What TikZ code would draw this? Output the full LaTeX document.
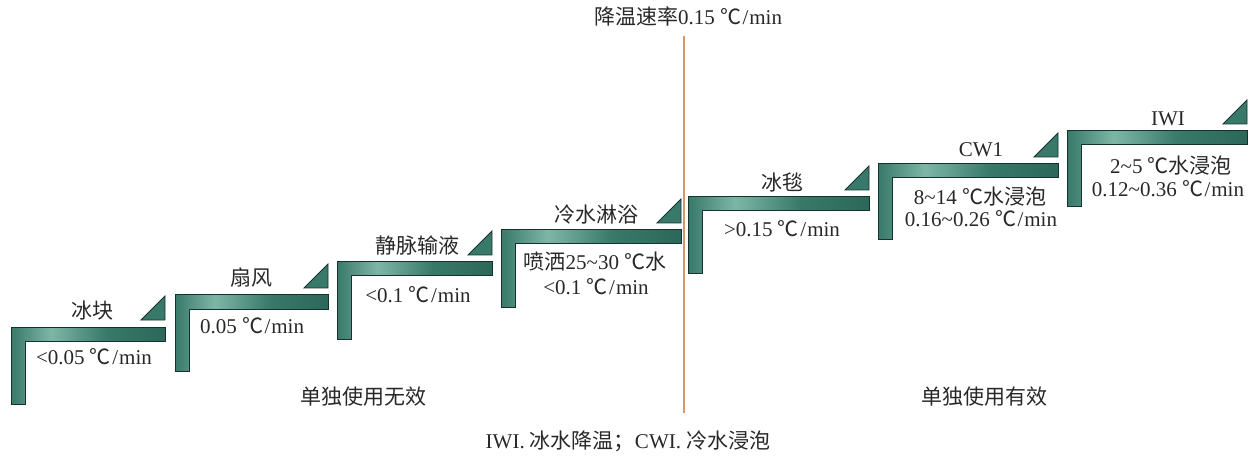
\documentclass[tikz,border=0pt]{standalone}
\usepackage{fontspec}
\setmainfont{Liberation Serif}
\newfontfamily\cjk{Noto Sans CJK SC}
\newcommand\dc{{\cjk ℃}\hspace{1.5pt}/\hspace{1pt}}
\newcommand\tl{\textasciitilde}
\definecolor{tdark}{RGB}{44,104,90}
\definecolor{tmid}{RGB}{56,121,106}
\definecolor{tlight}{RGB}{126,182,166}
\definecolor{edgec}{RGB}{22,50,44}
\definecolor{orng}{RGB}{214,150,105}
\definecolor{txt}{RGB}{40,40,40}
\pgfdeclarehorizontalshading{barshade}{100bp}{color(0bp)=(tmid); color(25bp)=(tmid); color(38bp)=(tlight); color(56bp)=(tmid); color(75bp)=(tdark); color(100bp)=(tdark)}
\tikzset{
  lbl/.style={font=\fontsize{21}{25}\selectfont, text=txt, inner sep=0pt, anchor=center},
  barstyle/.style={shading=barshade, draw=edgec, line width=1pt, line join=miter},
  tristyle/.style={fill=tmid, draw=edgec, line width=0.8pt},
}
\newcommand\stair[4]{%
  \shade[barstyle] (#1,#2) -- (#3,#2) -- (#3,#2+14) -- (#1+14,#2+14) -- (#1+14,#4) -- (#1,#4) -- cycle;
  \filldraw[tristyle] (#3-24,#2-7) -- (#3,#2-7) -- (#3,#2-31) -- cycle;
}
\begin{document}
\begin{tikzpicture}[x=1pt,y=-1pt]
\useasboundingbox (0,0) rectangle (1251,457);
\stair{11}{327}{165}{404}
\stair{175}{295}{328}{371}
\stair{337}{262}{492}{339}
\stair{501}{230}{681}{307}
\stair{688}{197}{869}{274}
\stair{878}{164}{1058}{240}
\stair{1067}{131}{1247}{207}
\coordinate (ltop) at (684,36);
\coordinate (lbot) at (684,413);
\draw[orng, line width=2.5pt] (ltop) -- (lbot);
\node[lbl] (t0) at (688,16) {{\cjk 降温速率}0.15 \dc min};
\node[lbl] (a1) at (92,311) {\cjk 冰块};
\node[lbl] (b1) at (94,357) {<0.05 \dc min};
\node[lbl] (a2) at (251,278) {\cjk 扇风};
\node[lbl] (b2) at (252,326) {0.05 \dc min};
\node[lbl] (a3) at (417,246) {\cjk 静脉输液};
\node[lbl] (b3) at (418,295) {<0.1 \dc min};
\node[lbl] (a4) at (596,215) {\cjk 冷水淋浴};
\node[lbl] (b4) at (595,262) {{\cjk 喷洒}25\tl30 {\cjk ℃水}};
\node[lbl] (c4) at (596,287) {<0.1 \dc min};
\node[lbl] (a5) at (782,182) {\cjk 冰毯};
\node[lbl] (b5) at (782,229) {>0.15 \dc min};
\node[lbl] (a6) at (981,150) {CW1};
\node[lbl] (b6) at (980,197) {8\tl14 {\cjk ℃水浸泡}};
\node[lbl] (c6) at (981,219) {0.16\tl0.26 \dc min};
\node[lbl] (a7) at (1168,119) {IWI};
\node[lbl] (b7) at (1171,166) {2\tl5 {\cjk ℃水浸泡}};
\node[lbl] (c7) at (1168,189) {0.12\tl0.36 \dc min};
\node[lbl] (n1) at (363,397) {\cjk 单独使用无效};
\node[lbl] (n2) at (984,397) {\cjk 单独使用有效};
\node[lbl] (cap) at (628,441) {IWI. {\cjk 冰水降温；}CWI. {\cjk 冷水浸泡}};
\end{tikzpicture}
\end{document}
